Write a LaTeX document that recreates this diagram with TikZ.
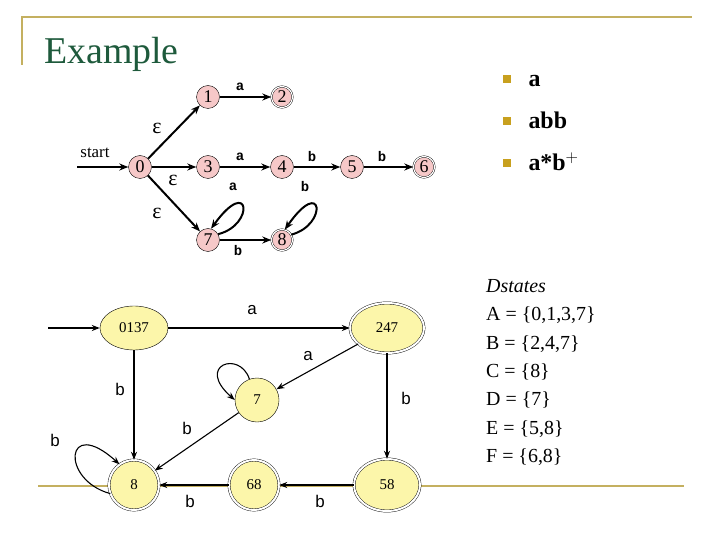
\documentclass[tikz,border=0pt]{standalone}
\usepackage{fontspec}
\setmainfont{Liberation Serif}
\newfontfamily\sff{Liberation Sans}
\newfontfamily\ttf{Liberation Mono}
\usetikzlibrary{arrows.meta,shapes.geometric}
\definecolor{olive}{RGB}{196,176,96}
\definecolor{gold}{RGB}{200,160,30}
\definecolor{ttl}{RGB}{30,90,60}
\definecolor{pinkf}{RGB}{246,200,200}
\definecolor{yelf}{RGB}{252,246,170}
\begin{document}
\begin{tikzpicture}[x=1bp,y=-1bp,
  ns/.style={circle,draw,fill=pinkf,minimum size=23bp,inner sep=0pt,font=\fontsize{18}{18}\selectfont},
  nacc/.style={ns,double,double distance=1.2bp,minimum size=21bp},
  ea/.style={-{Stealth[length=9bp,width=7bp]},line width=2bp},
  lt/.style={font=\ttf\bfseries\fontsize{14}{14}\selectfont},
  le/.style={font=\fontsize{22}{22}\selectfont},
  ds/.style={ellipse,draw,fill=yelf,inner sep=0pt,font=\fontsize{15}{15}\selectfont},
  dacc/.style={ds,double,double distance=2bp},
  da/.style={-{Stealth[length=8bp,width=6bp]},line width=1.1bp},
  dl/.style={font=\sff\fontsize{17}{17}\selectfont},
  bul/.style={fill=gold,minimum size=8bp,inner sep=0pt},
  bt/.style={font=\bfseries\fontsize{24}{24}\selectfont,anchor=base west}
]
\useasboundingbox (0,0) rectangle (720,540);
\draw[olive,line width=1.5bp] (22,65) -- (22,17) -- (692,17);
\draw[olive,line width=1.5bp] (38,486) -- (684,486);
\node[anchor=base west,text=ttl,font=\fontsize{38}{38}\selectfont,inner sep=0pt] (title) at (44,64) {Example};

% NFA
\node[ns] (n0) at (140,167) {0};
\node[ns] (n1) at (208,97) {1};
\node[nacc] (n2) at (282,97) {2};
\node[ns] (n3) at (208,167) {3};
\node[ns] (n4) at (282,167) {4};
\node[ns] (n5) at (352,167) {5};
\node[nacc] (n6) at (424,167) {6};
\node[ns] (n7) at (208,240) {7};
\node[nacc] (n8) at (282,240) {8};
\coordinate (st) at (77,167);
\node[anchor=base,font=\fontsize{17}{17}\selectfont] (stl) at (95,158) {start};
\draw[ea] (st) -- (n0);
\draw[ea] (n0) -- (n1);
\draw[ea] (n0) -- (n3);
\draw[ea] (n0) -- (n7);
\draw[ea] (n1) -- (n2);
\draw[ea] (n3) -- (n4);
\draw[ea] (n4) -- (n5);
\draw[ea] (n5) -- (n6);
\draw[ea] (n7) -- (n8);
\draw[ea] (n7.30) .. controls (255,225) and (250,175) .. (n7.75);
\draw[ea] (n8.30) .. controls (328,225) and (323,175) .. (n8.75);
\node[le] (e1) at (157,128) {ε};
\node[le] (e2) at (173,180) {ε};
\node[le] (e3) at (157,213) {ε};
\node[lt] (l12) at (240,87) {a};
\node[lt] (l34) at (240,157) {a};
\node[lt] (l45) at (312,157) {b};
\node[lt] (l56) at (382,157) {b};
\node[lt] (l77) at (233,187) {a};
\node[lt] (l88) at (305,187) {b};
\node[lt] (l78) at (238,251) {b};

% bullets
\node[bul] (b1) at (507,79) {};
\node[bul] (b2) at (507,121) {};
\node[bul] (b3) at (507,163) {};
\node[bt] (t1) at (525,87) {a};
\node[bt] (t2) at (525,129) {abb};
\node[bt] (t3) at (525,171) {a*b$^{+}$};

% Dstates
\node[anchor=north west,align=left,font=\fontsize{20}{28.5}\selectfont,inner sep=0pt] (dst) at (486,279)
{\textit{Dstates}\\ A = \{0,1,3,7\}\\ B = \{2,4,7\}\\ C = \{8\}\\ D = \{7\}\\ E = \{5,8\}\\ F = \{6,8\}};

% DFA
\node[ds,minimum width=68bp,minimum height=44bp] (A) at (134,328) {0137};
\node[dacc,minimum width=74bp,minimum height=50bp] (B) at (387,328) {247};
\node[ds,circle,minimum size=44bp] (D) at (257,400) {7};
\node[dacc,circle,minimum size=50bp] (C) at (134,485) {8};
\node[dacc,circle,minimum size=50bp] (F) at (254,485) {68};
\node[dacc,minimum width=66bp,minimum height=52bp] (E) at (387,485) {58};
\coordinate (ds0) at (48,328);
\draw[da] (ds0) -- (A);
\draw[da] (A) -- (B);
\draw[da] (A) -- (C);
\draw[da] (B) -- (D);
\draw[da] (B.south) -- (E.north);
\draw[da] (D) -- (C);
\draw[da] (E) -- (F);
\draw[da] (F) -- (C);
\draw[da] (D.110) .. controls (240,350) and (195,365) .. (D.180);
\draw[da] (C.200) .. controls (60,480) and (65,415) .. (C.125);
\node[dl] (la1) at (252,310) {a};
\node[dl] (la2) at (308,356) {a};
\node[dl] (lb1) at (120,389) {b};
\node[dl] (lb2) at (406,398) {b};
\node[dl] (lb3) at (187,428) {b};
\node[dl] (lb4) at (55,440) {b};
\node[dl] (lb5) at (190,501) {b};
\node[dl] (lb6) at (320,501) {b};
\end{tikzpicture}
\end{document}
